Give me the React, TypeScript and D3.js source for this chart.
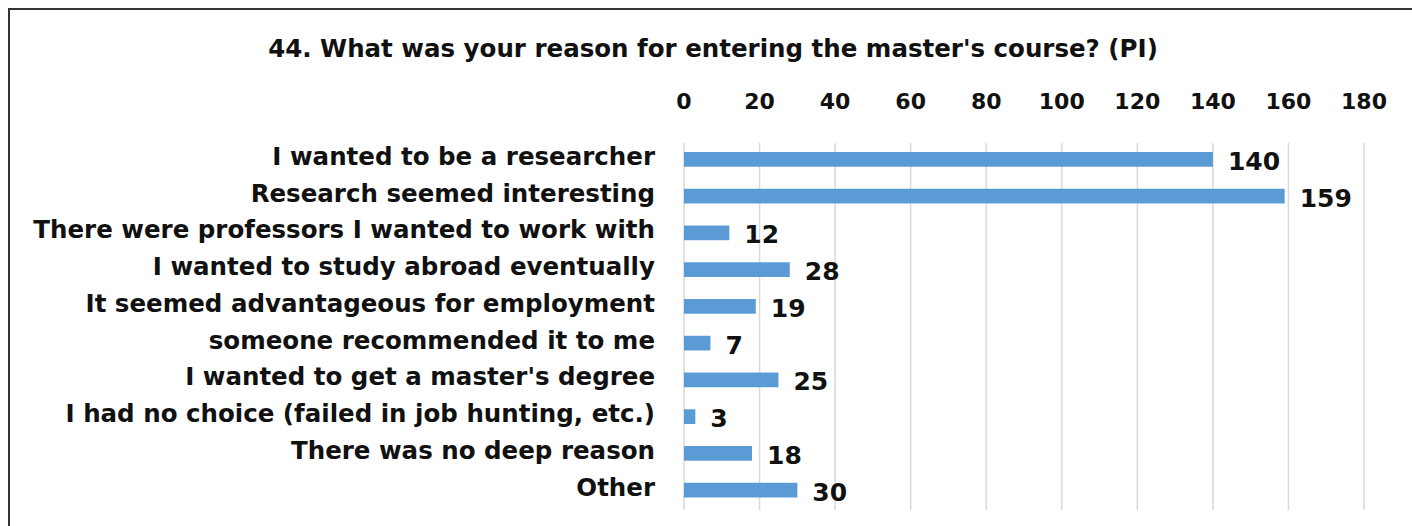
import React from "react";
import * as d3 from "d3";

const title = "44. What was your reason for entering the master's course? (PI)";
const categories = [
  "I wanted to be a researcher",
  "Research seemed interesting",
  "There were professors I wanted to work with",
  "I wanted to study abroad eventually",
  "It seemed advantageous for employment",
  "someone recommended it to me",
  "I wanted to get a master's degree",
  "I had no choice (failed in job hunting, etc.)",
  "There was no deep reason",
  "Other",
];
const values = [140, 159, 12, 28, 19, 7, 25, 3, 18, 30];
const ticks = [0, 20, 40, 60, 80, 100, 120, 140, 160, 180];

const W = 1412;
const H = 526;
const FONT = "'DejaVu Sans', Verdana, sans-serif";

export default function App() {
  const x = d3.scaleLinear().domain([0, 180]).range([684, 1364]);
  const y = d3.scaleBand<string>().domain(categories).range([141, 508.5]).paddingInner(0.6).paddingOuter(0.3);
  const bh = y.bandwidth();
  return (
    <svg width={W} height={H} style={{ position: "absolute", left: 0, top: 0, background: "#fff" }}>
      <rect x={0} y={0} width={W} height={H} fill="#fff" />
      <rect x={9} y={9} width={W + 20} height={H + 20} fill="none" stroke="#333" strokeWidth={2} />
      <text x={713} y={48} textAnchor="middle" dominantBaseline="central" fontFamily={FONT} fontWeight="bold" fontSize={24.5} fill="#111">
        {title}
      </text>
      {ticks.map((t) => (
        <g key={t}>
          <line x1={x(t)} x2={x(t)} y1={143} y2={510} stroke="#d9d9d9" strokeWidth={1.5} />
          <text x={x(t)} y={101} textAnchor="middle" dominantBaseline="central" fontFamily={FONT} fontWeight="bold" fontSize={22} fill="#111">
            {t}
          </text>
        </g>
      ))}
      {categories.map((c, i) => {
        const yc = (y(c) as number) + bh / 2;
        return (
          <g key={c}>
            <rect x={x(0)} y={y(c) as number} width={x(values[i]) - x(0)} height={bh} fill="#5B9BD5" />
            <text x={655} y={yc - 3} textAnchor="end" dominantBaseline="central" fontFamily={FONT} fontWeight="bold" fontSize={24.5} fill="#111">
              {c}
            </text>
            <text x={x(values[i]) + 15} y={yc + 2} textAnchor="start" dominantBaseline="central" fontFamily={FONT} fontWeight="bold" fontSize={25} fill="#111">
              {values[i]}
            </text>
          </g>
        );
      })}
    </svg>
  );
}
